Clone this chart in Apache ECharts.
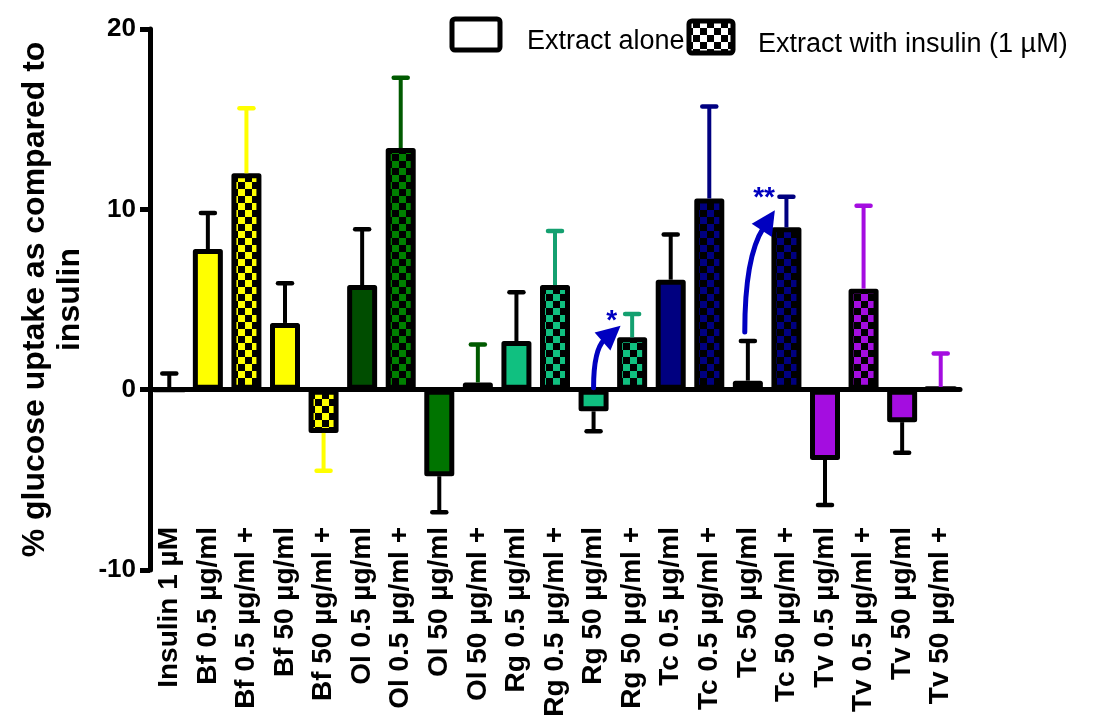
<!DOCTYPE html>
<html>
<head>
<meta charset="utf-8">
<title>Glucose uptake compared to insulin</title>
<script src="https://cdn.jsdelivr.net/npm/echarts@6/dist/echarts.min.js"></script>
<style>
  html, body { margin: 0; padding: 0; background: #fff; }
  #chart { width: 1097px; height: 724px; }
</style>
</head>
<body>
<div id="chart"></div>
<script>
var categories = ['Insulin 1 µM',
	'Bf 0.5 µg/ml', 'Bf 0.5 µg/ml +', 'Bf 50 µg/ml', 'Bf 50 µg/ml +',
	'Ol 0.5 µg/ml', 'Ol 0.5 µg/ml +', 'Ol 50 µg/ml', 'Ol 50 µg/ml +',
	'Rg 0.5 µg/ml', 'Rg 0.5 µg/ml +', 'Rg 50 µg/ml', 'Rg 50 µg/ml +',
	'Tc 0.5 µg/ml', 'Tc 0.5 µg/ml +', 'Tc 50 µg/ml', 'Tc 50 µg/ml +',
	'Tv 0.5 µg/ml', 'Tv 0.5 µg/ml +', 'Tv 50 µg/ml', 'Tv 50 µg/ml +'];
// mean % uptake and error (SEM)
var means = [0, 7.8, 12.0, 3.7, -2.4, 5.8, 13.4, -4.8, 0.4, 2.7, 5.8, -1.2, 2.9,
	6.1, 10.6, 0.5, 9.0, -3.9, 5.6, -1.8, 0.1];
var errors = [0.9, 2.0, 3.6, 2.2, 2.1, 3.1, 3.9, 2.0, 2.1, 2.7, 3.0, 1.1, 1.3,
	2.5, 5.1, 2.2, 1.7, 2.5, 4.6, 1.7, 1.9];
var yTicks = [-10, 0, 10, 20];
var legendNames = ['Extract alone', 'Extract with insulin (1 µM)'];
// significance arrows, in category index / value units
var arrowFrom = [[11, 0.1], [14.92, 3.2]];
var arrowTo = [[11.7, 3.55], [15.7, 9.95]];
var arrowLabels = ['*', '**'];
var arrowLabelAt = [[11.47, 4.2], [15.42, 11.0]];

var fillColors = ['#ffffff', '#ffff00', '#ffff00', '#ffff00', '#ffff00',
	'#004d00', '#008000', '#007400', '#005200',
	'#10c080', '#10c080', '#10c080', '#10c080',
	'#000080', '#000080', '#000080', '#000080',
	'#a40de0', '#a40de0', '#a40de0', '#a40de0'];
var errColors = ['#000', '#000', '#ffff00', '#000', '#ffff00',
	'#000', '#005a00', '#000', '#005a00',
	'#000', '#14a070', '#000', '#14a070',
	'#000', '#000080', '#000', '#000080',
	'#000', '#a40de0', '#000', '#a40de0'];

var FONT = 'Liberation Sans, Arial, sans-serif';
var ARROW_BLUE = '#0000c0';

// chequered fill for the "with insulin" bars
function checker(color) {
	var c = document.createElement('canvas');
	c.width = 14;
	c.height = 14;
	var ctx = c.getContext('2d');
	ctx.fillStyle = color;
	ctx.fillRect(0, 0, 14, 14);
	ctx.fillStyle = '#000';
	ctx.fillRect(0, 0, 7, 7);
	ctx.fillRect(7, 7, 7, 7);
	return { image: c, repeat: 'repeat' };
}

var barData = [];
var errData = [];
for (var i = 0; i < categories.length; i++) {
	var withIns = /\+$/.test(categories[i]);
	barData.push({
		value: means[i],
		itemStyle: { color: withIns ? checker(fillColors[i]) : fillColors[i] }
	});
	var sign = means[i] < 0 ? -1 : 1;
	errData.push([i, means[i], means[i] + sign * errors[i]]);
}

var chart = echarts.init(document.getElementById('chart'));

var option = {
	animation: false,
	backgroundColor: '#fff',
	grid: { left: 150, right: 137, top: 29, bottom: 154, containLabel: false },
	xAxis: [{
		type: 'category',
		data: categories,
		position: 'bottom',
		z: 4,
		axisLine: { onZero: true, lineStyle: { color: '#000', width: 5, cap: 'round' } },
		axisTick: { alignWithLabel: true, interval: 0, length: 12, lineStyle: { color: '#000', width: 4, cap: 'round' } },
		axisLabel: { show: false },
		splitLine: { show: false }
	}, {
		type: 'category',
		data: categories,
		position: 'bottom',
		offset: -43,
		axisLine: { show: false, onZero: false },
		axisTick: { show: false },
		splitLine: { show: false },
		axisLabel: {
			interval: 0,
			rotate: 90,
			margin: 0,
			hideOverlap: false,
			color: '#000',
			fontFamily: FONT,
			fontWeight: 'bold',
			fontSize: 28
		}
	}],
	yAxis: {
		type: 'value',
		min: yTicks[0],
		max: yTicks[yTicks.length - 1],
		interval: yTicks[1] - yTicks[0],
		name: '% glucose uptake as compared to\ninsulin',
		nameLocation: 'middle',
		nameRotate: 90,
		nameGap: 62,
		nameTextStyle: { color: '#000', fontFamily: FONT, fontWeight: 'bold', fontSize: 32, lineHeight: 35 },
		axisLine: { show: true, lineStyle: { color: '#000', width: 5 } },
		axisTick: { show: true, length: 10, lineStyle: { color: '#000', width: 5 } },
		axisLabel: { color: '#000', fontFamily: FONT, fontWeight: 'bold', fontSize: 26, margin: 14 },
		splitLine: { show: false }
	},
	series: [{
		name: 'mean',
		type: 'bar',
		xAxisIndex: 0,
		barWidth: 30,
		z: 2,
		itemStyle: { borderColor: '#000', borderWidth: 5, borderJoin: 'round' },
		data: barData
	}, {
		name: 'error',
		type: 'custom',
		xAxisIndex: 0,
		z: 3,
		clip: false,
		renderItem: function(params, api) {
			var idx = api.value(0);
			var p0 = api.coord([idx, api.value(1)]);
			var p1 = api.coord([idx, api.value(2)]);
			var col = errColors[params.dataIndex];
			return {
				type: 'group',
				children: [{
					type: 'line',
					shape: { x1: p0[0], y1: p0[1], x2: p1[0], y2: p1[1] },
					style: { stroke: col, lineWidth: 4 }
				}, {
					type: 'line',
					shape: { x1: p1[0] - 7, y1: p1[1], x2: p1[0] + 7, y2: p1[1] },
					style: { stroke: col, lineWidth: 4.5, lineCap: 'round' }
				}]
			};
		},
		data: errData
	}]
};
chart.setOption(option);

// legend + significance arrows, placed after the axes exist
function toPx(idx, val) {
	var a = chart.convertToPixel({ xAxisIndex: 0, yAxisIndex: 0 }, [0, val]);
	var b = chart.convertToPixel({ xAxisIndex: 0, yAxisIndex: 0 }, [1, val]);
	return [a[0] + idx * (b[0] - a[0]), a[1]];
}

var graphics = [{
	type: 'rect', shape: { x: 452, y: 19, width: 48, height: 31, r: 3 },
	style: { fill: '#fff', stroke: '#000', lineWidth: 5 }
}, {
	type: 'text', x: 527, y: 42,
	style: { text: legendNames[0], fill: '#000', font: '27px ' + FONT, textVerticalAlign: 'middle' }
}, {
	type: 'rect', shape: { x: 689, y: 21, width: 44, height: 32, r: 3 },
	style: { fill: checker('#fff'), stroke: '#000', lineWidth: 5 }
}, {
	type: 'text', x: 758, y: 45,
	style: { text: legendNames[1], fill: '#000', font: '27px ' + FONT, textVerticalAlign: 'middle' }
}];

for (var k = 0; k < arrowFrom.length; k++) {
	var s = toPx(arrowFrom[k][0], arrowFrom[k][1]);
	var t = toPx(arrowTo[k][0], arrowTo[k][1]);
	var c = [s[0], t[1] + 0.38 * (s[1] - t[1])];
	var dx = t[0] - c[0], dy = t[1] - c[1];
	var len = Math.sqrt(dx * dx + dy * dy);
	var ux = dx / len, uy = dy / len;
	var bx = t[0] - 24 * ux, by = t[1] - 24 * uy;
	graphics.push({
		type: 'bezierCurve',
		shape: { x1: s[0], y1: s[1], cpx1: c[0], cpy1: c[1], x2: bx + 3 * ux, y2: by + 3 * uy },
		style: { stroke: ARROW_BLUE, lineWidth: 5, lineCap: 'round', fill: null },
		z: 10
	});
	graphics.push({
		type: 'polygon',
		shape: { points: [t, [bx - 12 * uy, by + 12 * ux], [bx + 12 * uy, by - 12 * ux]] },
		style: { fill: ARROW_BLUE },
		z: 10
	});
	var lp = toPx(arrowLabelAt[k][0], arrowLabelAt[k][1]);
	graphics.push({
		type: 'text', x: lp[0], y: lp[1] + 7,
		style: { text: arrowLabels[k], fill: ARROW_BLUE, font: 'bold 28px ' + FONT, textAlign: 'center', textVerticalAlign: 'middle' },
		z: 10
	});
}
chart.setOption({ graphic: graphics });
</script>
</body>
</html>
